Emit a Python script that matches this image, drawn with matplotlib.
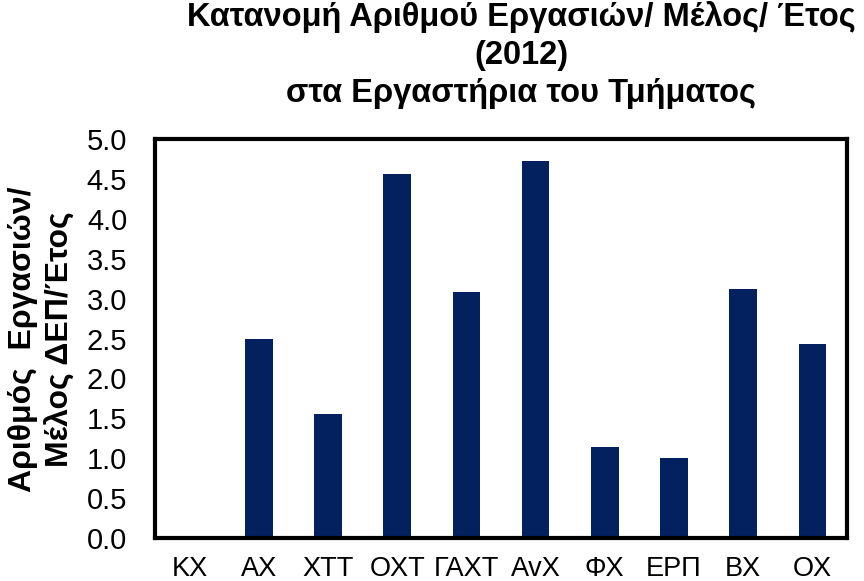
# -*- coding: utf-8 -*-
import numpy as np
import matplotlib
matplotlib.use("Agg")
import matplotlib.pyplot as plt

# Datos
categorias = ['ΚΧ', 'ΑΧ', 'ΧΤΤ', 'ΟΧΤ', 'ΓΑΧΤ', 'ΑvΧ', 'ΦΧ', 'ΕΡΠ', 'ΒΧ', 'ΟΧ']
valores = [0.0, 2.49, 1.56, 4.56, 3.08, 4.72, 1.14, 1.00, 3.12, 2.43]
ticks_y = [0.0, 0.5, 1.0, 1.5, 2.0, 2.5, 3.0, 3.5, 4.0, 4.5, 5.0]

titulo = "Κατανομή Αριθμού Εργασιών/ Μέλος/ Έτος\n(2012)\nστα Εργαστήρια του Τμήματος"
etiqueta_y = "Αριθμός  Εργασιών/\nΜέλος ΔΕΠ/Έτος"

fuente = ['Liberation Sans', 'DejaVu Sans']

W, H = 864, 581
fig = plt.figure(figsize=(W / 100, H / 100), dpi=100)
ax = fig.add_axes([155 / W, 1 - 538 / H, 692 / W, 399 / H])

x = np.arange(len(categorias))
ax.bar(x, valores, width=0.4, color='#03205f')

ax.set_xlim(-0.5, len(categorias) - 0.5)
ax.set_ylim(0, 5)
ax.set_yticks(ticks_y)
ax.set_yticklabels(["%.1f" % v for v in ticks_y], family=fuente, fontsize=21)
ax.set_xticks(x)
ax.set_xticklabels(categorias, family=fuente, fontsize=19.5)
ax.tick_params(axis='y', length=0, pad=20)
ax.tick_params(axis='x', length=0, pad=13)

for s in ax.spines.values():
    s.set_linewidth(3)
    s.set_color('black')

# Etiqueta del eje y (dos lineas)
fig.text(42 / W, 1 - 339 / H, etiqueta_y, rotation=90, ha='center', va='center',
         family=fuente, fontsize=23, fontweight='bold', linespacing=1.35,
         multialignment='center')

# Titulo
fig.text(521 / W, 1 - 1 / H, titulo, ha='center', va='top',
         family=fuente, fontsize=23.5, fontweight='bold', linespacing=1.3,
         multialignment='center')

fig.savefig('out.png', dpi=100)
